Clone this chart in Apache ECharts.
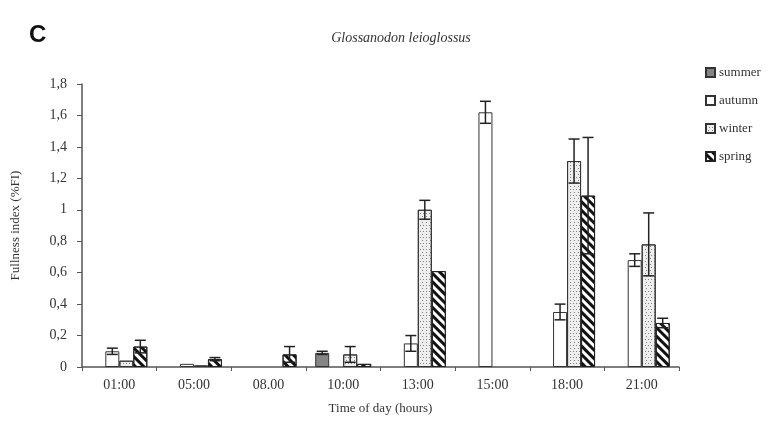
<!DOCTYPE html>
<html>
<head>
<meta charset="utf-8">
<script src="https://cdn.jsdelivr.net/npm/echarts@6/dist/echarts.min.js"></script>
<style>
  html, body { margin: 0; padding: 0; background: #fff; }
  #chart { width: 783px; height: 443px; }
</style>
</head>
<body>
<div id="chart"></div>
<script>
// Hours of sampling
const categories = ['01:00', '05:00', '08.00', '10:00', '13:00', '15:00', '18:00', '21:00'];
const yTicks = [0, 0.2, 0.4, 0.6, 0.8, 1, 1.2, 1.4, 1.6, 1.8];

// Mean fullness index per season (null = no sample)
const summer = [null, null, null, 0.09, null, null, null, null];
const autumn = [0.10, 0.02, null, null, 0.15, 1.62, 0.35, 0.68];
const winter = [0.04, 0.01, null, 0.08, 1.00, null, 1.31, 0.78];
const spring = [0.13, 0.05, 0.08, 0.02, 0.61, null, 1.09, 0.28];

// Standard errors
const summerErr = [null, null, null, 0.01, null, null, null, null];
const autumnErr = [0.02, 0, null, null, 0.05, 0.07, 0.05, 0.04];
const winterErr = [0, 0, null, 0.05, 0.06, null, 0.14, 0.20];
const springErr = [0.04, 0.01, 0.05, 0, 0, null, 0.37, 0.03];

const seasons = ['summer', 'autumn', 'winter', 'spring'];
const means = [summer, autumn, winter, spring];
const errs = [summerErr, autumnErr, winterErr, springErr];

const BAR_W = 14;
const serif = '"Liberation Serif", "DejaVu Serif", serif';

const styles = [
  { color: '#858585', borderColor: '#333', borderWidth: 1 },
  { color: '#ffffff', borderColor: '#333', borderWidth: 1 },
  { color: '#eeeeee', borderColor: '#333', borderWidth: 1,
    decal: { symbol: 'circle', symbolSize: 1, color: '#5e5e5e',
             dashArrayX: [[1, 2], [0, 1.5, 1, 0.5]], dashArrayY: [1, 1.5], rotation: 0 } },
  { color: '#ffffff', borderColor: '#222', borderWidth: 1,
    decal: { symbol: 'rect', symbolSize: 1, color: '#111',
             dashArrayX: [1, 0], dashArrayY: [3, 3], rotation: Math.PI / 4 } }
];

const barSeries = seasons.map((name, i) => ({
  name: name,
  type: 'bar',
  data: means[i],
  barWidth: BAR_W,
  barGap: '0%',
  itemStyle: styles[i],
  emphasis: { disabled: true },
  z: 2
}));

// Error bar records: [category index, mean, error, season index]
const errData = [];
means.forEach((arr, s) => {
  arr.forEach((v, c) => {
    const e = errs[s][c];
    if (v != null && e != null && e > 0) errData.push([c, v, e, s]);
  });
});

const errorSeries = {
  type: 'custom',
  name: 'error',
  data: errData,
  z: 5,
  silent: true,
  encode: { x: 0, y: 1 },
  renderItem: function (params, api) {
    const c = api.value(0), v = api.value(1), e = api.value(2), s = api.value(3);
    const off = (s - 1.5) * BAR_W;
    const hi = api.coord([c, v + e]);
    const lo = api.coord([c, Math.max(v - e, 0)]);
    const x = hi[0] + off;
    const cap = 5.5;
    const st = { stroke: '#222', lineWidth: 1.5 };
    return {
      type: 'group',
      children: [
        { type: 'line', shape: { x1: x, y1: hi[1], x2: x, y2: lo[1] }, style: st },
        { type: 'line', shape: { x1: x - cap, y1: hi[1], x2: x + cap, y2: hi[1] }, style: st },
        { type: 'line', shape: { x1: x - cap, y1: lo[1], x2: x + cap, y2: lo[1] }, style: st }
      ]
    };
  }
};

const chart = echarts.init(document.getElementById('chart'));
chart.setOption({
  animation: false,
  backgroundColor: '#ffffff',
  title: [
    { text: 'C', left: 24, top: 18,
      textStyle: { fontFamily: '"Liberation Sans", Arial, sans-serif', fontSize: 24, fontWeight: 'bold', color: '#111' } },
    { text: 'Glossanodon leioglossus', left: 396, top: 26, textAlign: 'center',
      textStyle: { fontFamily: serif, fontStyle: 'italic', fontSize: 14, fontWeight: 'normal', color: '#333' } }
  ],
  legend: {
    data: seasons,
    orient: 'vertical',
    left: 700,
    top: 61,
    itemWidth: 9,
    itemHeight: 9,
    itemGap: 15,
    icon: 'rect',
    textStyle: { fontFamily: serif, fontSize: 13, color: '#333', padding: [0, 0, 0, -1] }
  },
  grid: { left: 82, right: 104, top: 84, bottom: 76 },
  xAxis: {
    type: 'category',
    data: categories,
    name: 'Time of day (hours)',
    nameLocation: 'middle',
    nameGap: 35,
    nameTextStyle: { fontFamily: serif, fontSize: 13, color: '#333' },
    axisLine: { lineStyle: { color: '#555', width: 1.5 } },
    axisTick: { show: true, length: 4, lineStyle: { color: '#555' } },
    axisLabel: { fontFamily: serif, fontSize: 14, color: '#333', margin: 11 }
  },
  yAxis: {
    type: 'value',
    min: 0,
    max: 1.8,
    interval: 0.2,
    name: 'Fullness index (%FI)',
    nameLocation: 'middle',
    nameGap: 60,
    nameRotate: 90,
    nameTextStyle: { fontFamily: serif, fontSize: 13, color: '#333' },
    splitLine: { show: false },
    axisLine: { show: true, lineStyle: { color: '#555', width: 1.5 } },
    axisTick: { show: true, length: 5, lineStyle: { color: '#555' } },
    axisLabel: {
      fontFamily: serif, fontSize: 14, color: '#333', margin: 15,
      formatter: function (v) {
        const t = yTicks.find(x => Math.abs(x - v) < 1e-6);
        return String(t != null ? t : Number(v.toFixed(1))).replace('.', ',');
      }
    }
  },
  series: barSeries.concat([errorSeries])
});
</script>
</body>
</html>
